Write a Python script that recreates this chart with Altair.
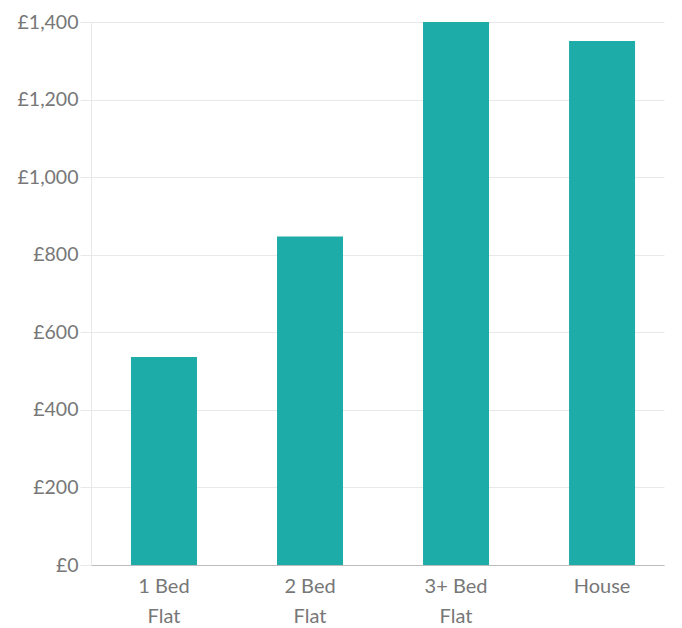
import altair as alt
import pandas as pd

categories = ["1 Bed Flat", "2 Bed Flat", "3+ Bed Flat", "House"]
values = [536, 847, 1400, 1351]

df = pd.DataFrame({"type": categories, "rent": values})

chart = alt.Chart(df).mark_bar(color="#1eaca8").encode(
    x=alt.X("type:N", sort=categories, title=None,
            scale=alt.Scale(paddingInner=0.548, paddingOuter=0.236, align=0.58),
            axis=alt.Axis(labelAngle=0, ticks=False, domainColor="#bbbbbb",
                          labelFont="Lato", labelFontSize=20, labelColor="#777777",
                          labelPadding=11, labelLineHeight=30,
                          labelExpr="datum.label == 'House' ? 'House' : [replace(datum.label, ' Flat', ''), 'Flat']")),
    y=alt.Y("rent:Q", title=None,
            scale=alt.Scale(domain=[0, 1400], nice=False),
            axis=alt.Axis(values=[0, 200, 400, 600, 800, 1000, 1200, 1400],
                          labelExpr="'£' + format(datum.value, ',')",
                          gridColor="#e8e8e8", tickColor="#e8e8e8", tickSize=11,
                          domainColor="#e8e8e8", labelPadding=2,
                          labelFont="Lato", labelFontSize=19.5, labelColor="#777777")),
).properties(
    width=573, height=543,
    autosize=alt.AutoSizeParams(type="none"),
    padding={"left": 83, "top": 14, "right": 10, "bottom": 62},
).configure_view(stroke=None)

chart.save("out.html", embed_options={"renderer": "svg", "actions": False})
